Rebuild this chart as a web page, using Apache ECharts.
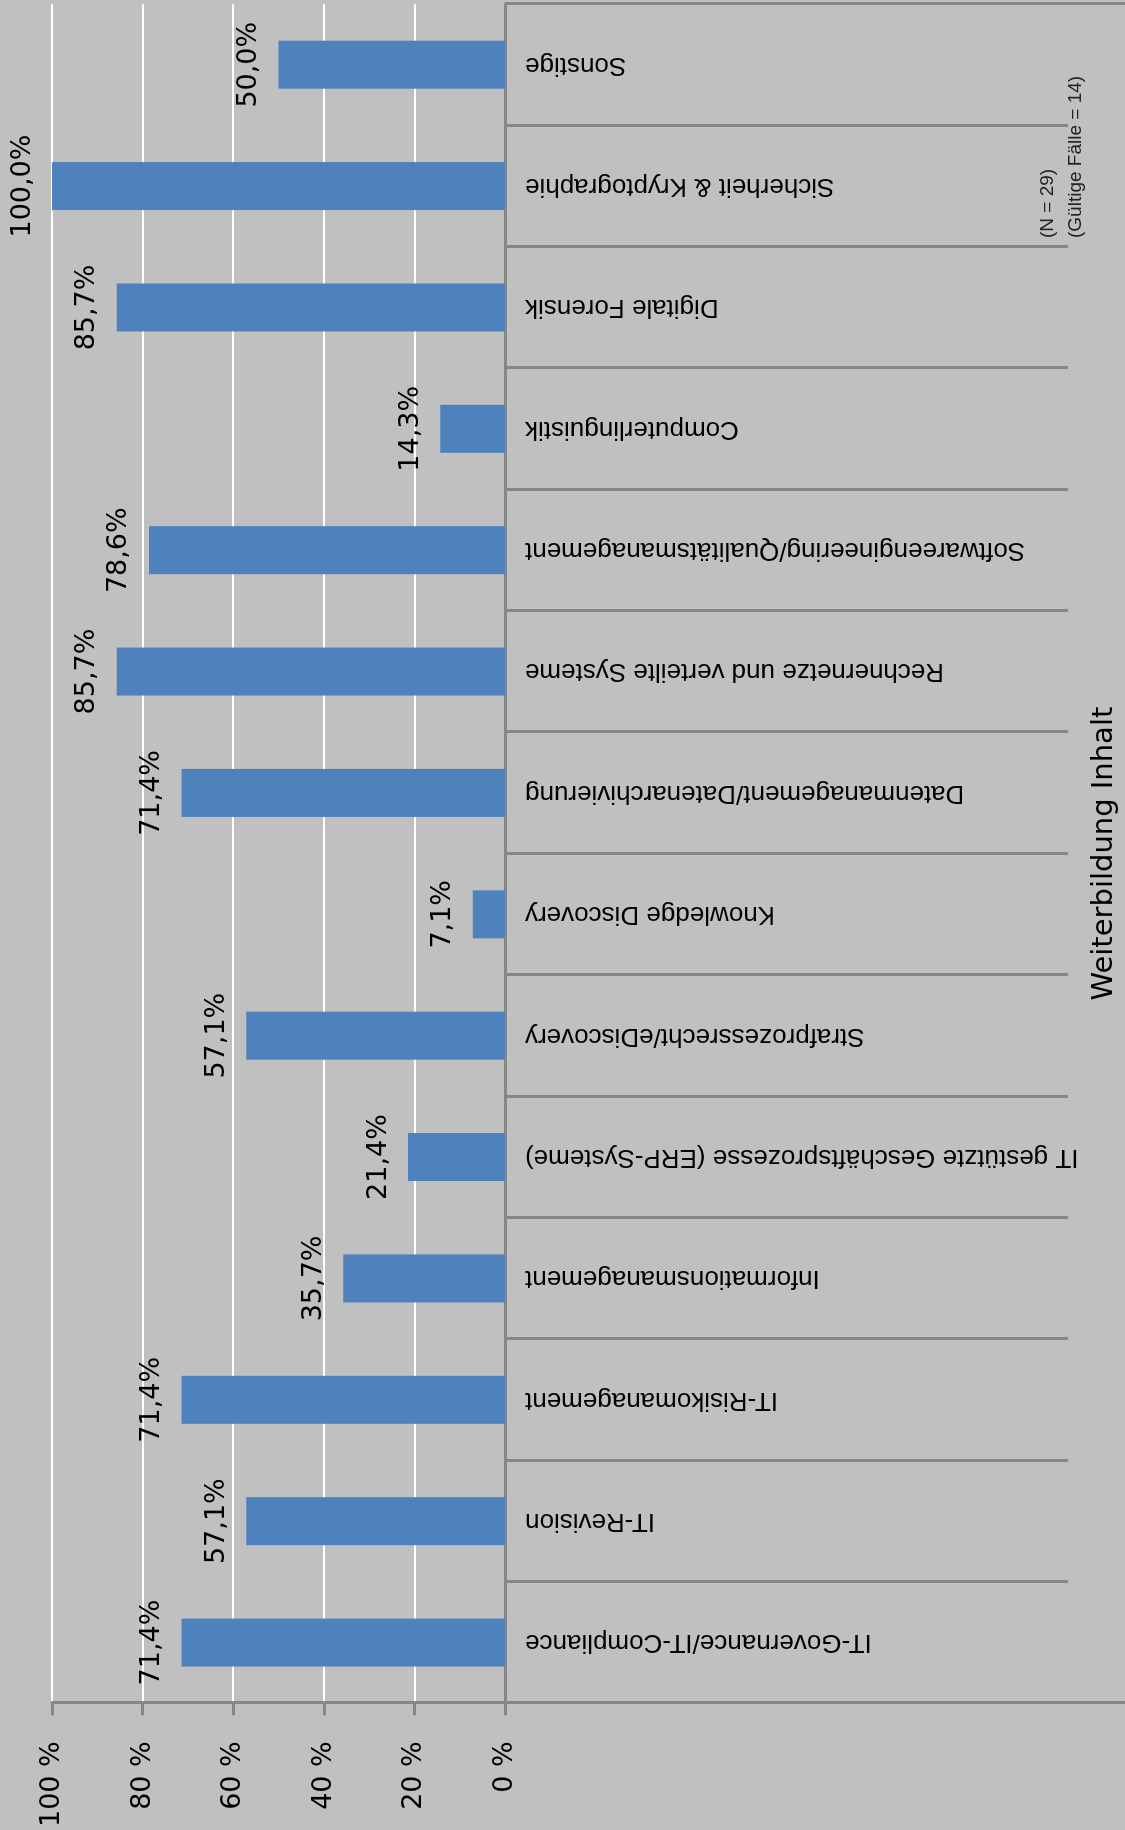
<!DOCTYPE html>
<html>
<head>
<meta charset="utf-8">
<title>Weiterbildung Inhalt</title>
<script src="https://cdn.jsdelivr.net/npm/echarts@6/dist/echarts.min.js"></script>
<style>
  html, body {
    margin: 0;
    padding: 0;
    width: 1125px;
    height: 1830px;
    overflow: hidden;
    background: #c0c0c0;
  }
  /* the chart is drawn as an upright column chart and then turned a quarter left */
  #chart {
    position: absolute;
    left: 0;
    top: 0;
    width: 1830px;
    height: 1125px;
    transform-origin: 0 0;
    transform: translate(0, 1830px) rotate(-90deg);
  }
</style>
</head>
<body>
<div id="chart"></div>
<script>
const categories = [
  'IT-Governance/IT-Compliance',
  'IT-Revision',
  'IT-Risikomanagement',
  'Informationsmanagement',
  'IT gestützte Geschäftsprozesse (ERP-Systeme)',
  'Strafprozessrecht/eDiscovery',
  'Knowledge Discovery',
  'Datenmanagement/Datenarchivierung',
  'Rechnernetze und verteilte Systeme',
  'Softwareengineering/Qualitätsmanagement',
  'Computerlinguistik',
  'Digitale Forensik',
  'Sicherheit & Kryptographie',
  'Sonstige'
]
const shares = [71.4, 57.1, 71.4, 35.7, 21.4, 57.1, 7.1, 71.4, 85.7, 78.6, 14.3, 85.7, 100.0, 50.0]
const axisMax = 100
const tickStep = 20
const noteLines = ['(N = 29)', '(Gültige Fälle = 14)']

const axisGray = '#878787'
const barBlue = '#4f81bd'

const chart = echarts.init(document.getElementById('chart'))

chart.setOption({
  backgroundColor: '#c0c0c0',
  animation: false,
  grid: {
    left: 125,
    right: 4,
    top: 52,
    bottom: 620
  },
  xAxis: [{
    type: 'category',
    data: categories,
    position: 'bottom',
    boundaryGap: true,
    name: 'Weiterbildung Inhalt',
    nameLocation: 'middle',
    nameGap: 585,
    nameTextStyle: {
      fontFamily: 'DejaVu Sans',
      fontSize: 29,
      color: '#000'
    },
    axisLine: {
      show: true,
      lineStyle: { color: axisGray, width: 3 }
    },
    axisTick: {
      show: true,
      length: 563,
      interval: 0,
      alignWithLabel: false,
      lineStyle: { color: axisGray, width: 3 }
    },
    axisLabel: {
      interval: 0,
      rotate: 90,
      margin: 20,
      fontFamily: 'Liberation Sans',
      fontSize: 26,
      color: '#000'
    },
    splitLine: { show: false }
  }, {
    // only the two outer boundary lines, which run down to the edge
    type: 'value',
    position: 'bottom',
    min: 0,
    max: 1,
    interval: 1,
    axisLine: { show: false },
    axisTick: {
      show: true,
      length: 620,
      lineStyle: { color: axisGray, width: 3 }
    },
    axisLabel: { show: false },
    splitLine: { show: false }
  }],
  yAxis: {
    type: 'value',
    min: 0,
    max: axisMax,
    interval: tickStep,
    axisLine: {
      show: true,
      lineStyle: { color: axisGray, width: 3 }
    },
    axisTick: {
      show: true,
      length: 12,
      lineStyle: { color: axisGray, width: 3 }
    },
    axisLabel: {
      formatter: '{value} %',
      margin: 38,
      fontFamily: 'DejaVu Sans',
      fontSize: 27,
      color: '#000'
    },
    splitLine: {
      lineStyle: { color: '#ffffff', width: 2 }
    }
  },
  series: [{
    type: 'bar',
    xAxisIndex: 0,
    data: shares,
    barWidth: 48,
    itemStyle: { color: barBlue },
    label: {
      show: true,
      position: 'top',
      distance: 16,
      fontFamily: 'DejaVu Sans',
      fontSize: 27,
      color: '#000',
      formatter: p => p.value.toFixed(1).replace('.', ',') + '%'
    }
  }],
  graphic: [{
    type: 'text',
    left: 1592,
    top: 1034,
    style: {
      text: noteLines.join('\n'),
      fontFamily: 'Liberation Sans',
      fontSize: 19,
      lineHeight: 28,
      fill: '#222'
    }
  }]
})
</script>
</body>
</html>
